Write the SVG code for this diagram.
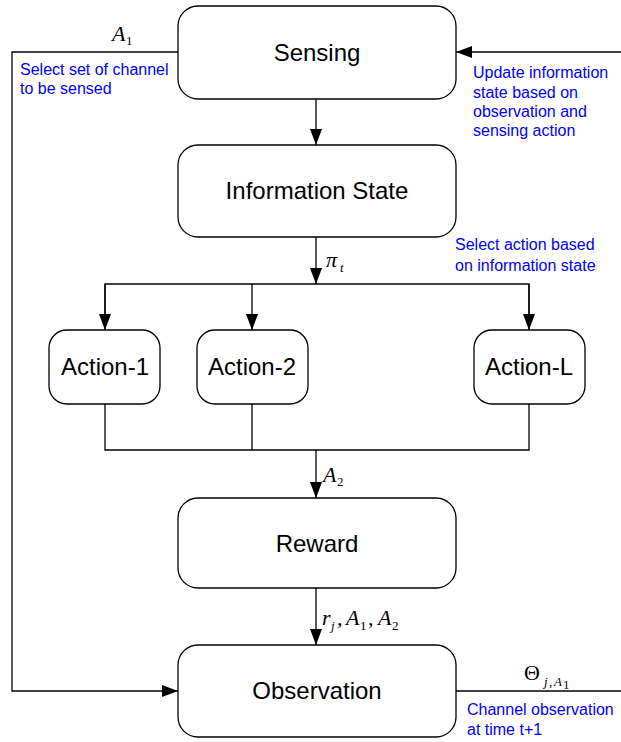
<svg xmlns="http://www.w3.org/2000/svg" width="621" height="742" viewBox="0 0 621 742">
<style>
.box{fill:#fff;stroke:#000;stroke-width:1.3}
.lbl{font-family:"Liberation Sans",Arial,sans-serif;font-size:24px;fill:#000;text-anchor:middle}
.note{font-family:"Liberation Sans",Arial,sans-serif;font-size:16px;fill:#0000ff}
.math{font-family:"Liberation Serif","Times New Roman",serif;font-style:italic;font-size:22px;fill:#000}
.up{font-family:"Liberation Serif","Times New Roman",serif;font-size:22px;fill:#000}
.sub{font-family:"Liberation Serif","Times New Roman",serif;font-size:13px;fill:#000}
.isub{font-family:"Liberation Serif","Times New Roman",serif;font-style:italic;font-size:13px;fill:#000}
.ln{fill:none;stroke:#000;stroke-width:1.3}
</style>
<defs>
<marker id="ah" markerWidth="16" markerHeight="12" refX="16" refY="6" orient="auto" markerUnits="userSpaceOnUse">
<path d="M0,0 L16,6 L0,12 Z" fill="#000"/>
</marker>
</defs>
<g id="connectors">
<line class="ln" x1="316" y1="99" x2="316" y2="145" marker-end="url(#ah)"/>
<line class="ln" x1="316" y1="237" x2="316" y2="284" marker-end="url(#ah)"/>
<polyline class="ln" points="105,330 105,284 529,284 529,330"/>
<line class="ln" x1="105" y1="284" x2="105" y2="330" marker-end="url(#ah)"/>
<line class="ln" x1="252" y1="284" x2="252" y2="330" marker-end="url(#ah)"/>
<line class="ln" x1="529" y1="284" x2="529" y2="330" marker-end="url(#ah)"/>
<polyline class="ln" points="105,404 105,450 529,450 529,404"/>
<line class="ln" x1="252" y1="404" x2="252" y2="450"/>
<line class="ln" x1="316" y1="450" x2="316" y2="498" marker-end="url(#ah)"/>
<line class="ln" x1="316" y1="588" x2="316" y2="645" marker-end="url(#ah)"/>
<polyline class="ln" points="178,52 12,52 12,691 178,691" marker-end="url(#ah)"/>
<line class="ln" x1="621" y1="52" x2="456" y2="52" marker-end="url(#ah)"/>
<line class="ln" x1="456" y1="691" x2="621" y2="691"/>
</g>
<g id="sensing">
<rect class="box" x="178" y="6" width="278" height="93" rx="20"/>
<text class="lbl" x="317" y="61">Sensing</text>
</g>
<g id="information-state">
<rect class="box" x="178" y="145" width="278" height="92" rx="20"/>
<text class="lbl" x="317" y="199">Information State</text>
</g>
<g id="action-1">
<rect class="box" x="49" y="330" width="111" height="74" rx="18"/>
<text class="lbl" x="105" y="375">Action-1</text>
</g>
<g id="action-2">
<rect class="box" x="197" y="330" width="111" height="74" rx="18"/>
<text class="lbl" x="252" y="375">Action-2</text>
</g>
<g id="action-L">
<rect class="box" x="474" y="330" width="111" height="74" rx="18"/>
<text class="lbl" x="529" y="375">Action-L</text>
</g>
<g id="reward">
<rect class="box" x="178" y="498" width="278" height="90" rx="20"/>
<text class="lbl" x="317" y="552">Reward</text>
</g>
<g id="observation">
<rect class="box" x="178" y="645" width="278" height="92" rx="20"/>
<text class="lbl" x="317" y="699">Observation</text>
</g>
<g id="labels">
<text class="math" x="112" y="41">A</text><text class="sub" x="126" y="45">1</text>
<text class="note" x="20" y="75">Select set of channel</text>
<text class="note" x="20" y="94">to be sensed</text>
<text class="note" x="473" y="78">Update information</text>
<text class="note" x="473" y="98">state based on</text>
<text class="note" x="473" y="117">observation and</text>
<text class="note" x="473" y="136">sensing action</text>
<text class="math" x="326" y="267">π</text><text class="isub" x="340" y="272">t</text>
<text class="note" x="455" y="250">Select action based</text>
<text class="note" x="455" y="271">on information state</text>
<text class="math" x="323" y="482">A</text><text class="sub" x="337" y="486">2</text>
<text class="math" x="322" y="625">r</text><text class="isub" x="331" y="630">j</text>
<text class="math" x="337" y="625">,</text>
<text class="math" x="346" y="625">A</text><text class="sub" x="360" y="630">1</text>
<text class="math" x="368" y="625">,</text>
<text class="math" x="378" y="625">A</text><text class="sub" x="392" y="630">2</text>
<text class="up" x="524" y="680">Θ</text>
<text class="isub" x="544" y="686">j</text><text class="sub" x="549" y="686">,</text><text class="isub" x="554" y="686">A</text><text class="sub" x="563" y="689" font-size="9">1</text>
<text class="note" x="467" y="715">Channel observation</text>
<text class="note" x="467" y="735">at time t+1</text>
</g>
</svg>
